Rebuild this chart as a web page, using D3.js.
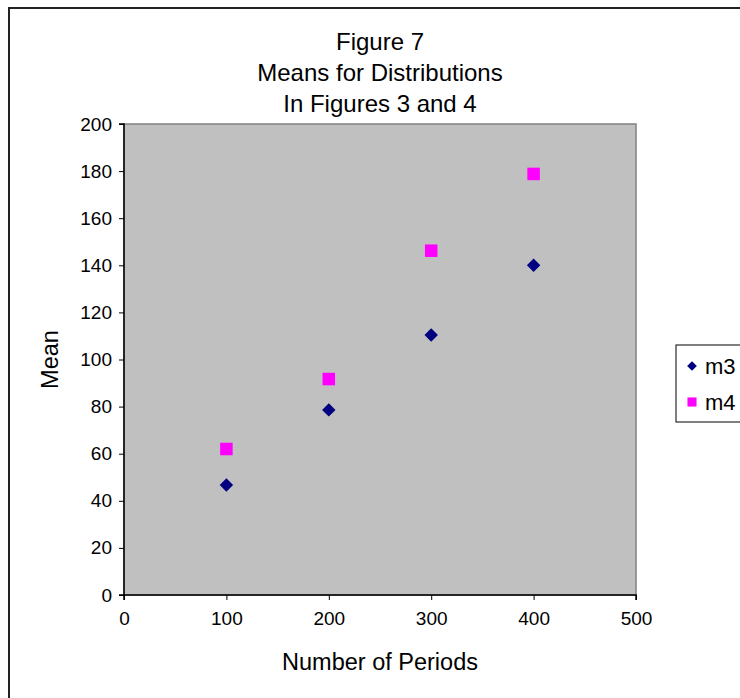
<!DOCTYPE html>
<html>
<head>
<meta charset="utf-8">
<script src="https://cdn.jsdelivr.net/npm/d3@7"></script>
<style>
  html, body { margin: 0; padding: 0; background: #fff; }
  svg { display: block; font-family: "Liberation Sans", Arial, sans-serif; }
</style>
</head>
<body>
<svg id="chart" width="740" height="698"></svg>
<script>
// Number of periods on the x axis
const periods = [100, 200, 300, 400];
// Mean values for each series
const m3Values = [46.7, 78.6, 110.4, 140.0];
const m4Values = [62.0, 91.7, 146.2, 178.8];
const seriesNames = ["m3", "m4"];
const xTicks = [0, 100, 200, 300, 400, 500];
const yTicks = [0, 20, 40, 60, 80, 100, 120, 140, 160, 180, 200];
const titleLines = ["Figure 7", "Means for Distributions", "In Figures 3 and 4"];

const svg = d3.select("#chart");
const plot = { left: 124, top: 124, right: 636, bottom: 595 };

// Outer chart frame (runs off the right and bottom edges)
svg.append("rect")
  .attr("x", 9).attr("y", 8)
  .attr("width", 760).attr("height", 720)
  .attr("fill", "#fff").attr("stroke", "#222").attr("stroke-width", 2);

const x = d3.scaleLinear().domain([0, 500]).range([plot.left, plot.right]);
const y = d3.scaleLinear().domain([0, 200]).range([plot.bottom, plot.top]);

// Plot area
svg.append("rect")
  .attr("x", plot.left).attr("y", plot.top)
  .attr("width", plot.right - plot.left).attr("height", plot.bottom - plot.top)
  .attr("fill", "#c0c0c0").attr("stroke", "#808080").attr("stroke-width", 1.5);

// Axes
const yAxis = svg.append("g")
  .attr("transform", `translate(${plot.left},0)`)
  .call(d3.axisLeft(y).tickValues(yTicks).tickSize(5).tickPadding(7).tickFormat(d3.format("d")));
const xAxis = svg.append("g")
  .attr("transform", `translate(0,${plot.bottom})`)
  .call(d3.axisBottom(x).tickValues(xTicks).tickSize(5).tickPadding(12).tickFormat(d3.format("d")));

[yAxis, xAxis].forEach(g => {
  g.select(".domain").attr("stroke", "#000").attr("stroke-width", 1.5);
  g.selectAll(".tick line").attr("stroke", "#000");
  g.selectAll(".tick text")
    .attr("font-family", "'Liberation Sans', Arial, sans-serif")
    .attr("font-size", 19).attr("fill", "#000");
});
yAxis.select(".domain").attr("d", `M-5,${plot.bottom}H0V${plot.top}H-5`);
xAxis.select(".domain").attr("d", `M${plot.left},5V0H${plot.right}V5`);

// Title
svg.append("g").selectAll("text")
  .data(titleLines)
  .join("text")
  .attr("x", (plot.left + plot.right) / 2)
  .attr("y", (d, i) => 50 + i * 31)
  .attr("text-anchor", "middle")
  .attr("font-size", 24)
  .text(d => d);

// Axis titles
svg.append("text")
  .attr("x", (plot.left + plot.right) / 2).attr("y", 670)
  .attr("text-anchor", "middle").attr("font-size", 23.5)
  .text("Number of Periods");
svg.append("text")
  .attr("transform", `translate(58,${(plot.top + plot.bottom) / 2}) rotate(-90)`)
  .attr("text-anchor", "middle").attr("font-size", 23.5)
  .text("Mean");

// Markers
const diamond = d3.symbol().type(d3.symbolDiamond2);
const square = d3.symbol().type(d3.symbolSquare2);
const colors = { m3: "#000080", m4: "#ff00ff" };

svg.append("g").selectAll("path")
  .data(periods.map((p, i) => ({ p, v: m3Values[i] })))
  .join("path")
  .attr("transform", d => `translate(${x(d.p)},${y(d.v)})`)
  .attr("d", diamond.size(115)())
  .attr("fill", colors.m3);

svg.append("g").selectAll("path")
  .data(periods.map((p, i) => ({ p, v: m4Values[i] })))
  .join("path")
  .attr("transform", d => `translate(${x(d.p)},${y(d.v)})`)
  .attr("d", square.size(200)())
  .attr("fill", colors.m4);

// Legend
const legend = svg.append("g").attr("transform", "translate(676,345)");
legend.append("rect")
  .attr("width", 80).attr("height", 77)
  .attr("fill", "#fff").attr("stroke", "#000").attr("stroke-width", 1);
const items = legend.selectAll("g.item")
  .data(seriesNames)
  .join("g")
  .attr("class", "item")
  .attr("transform", (d, i) => `translate(16,${21 + i * 36})`);
items.append("path")
  .attr("d", d => d === "m3" ? diamond.size(60)() : square.size(105)())
  .attr("fill", d => colors[d]);
items.append("text")
  .attr("x", 13).attr("y", 8)
  .attr("font-size", 22)
  .text(d => d);
</script>
</body>
</html>
